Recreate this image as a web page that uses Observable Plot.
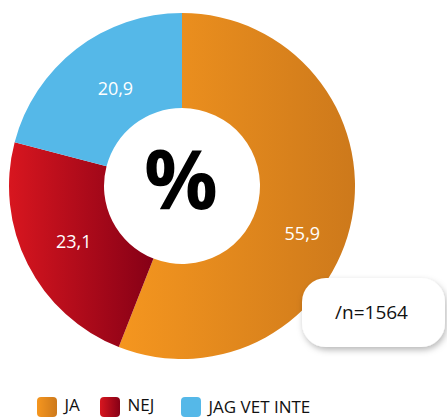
<!DOCTYPE html>
<html><head><meta charset="utf-8">
<script src="https://cdn.jsdelivr.net/npm/d3@7"></script>
<script src="https://cdn.jsdelivr.net/npm/@observablehq/plot@0.6"></script>
<style>body{margin:0;background:#fff;} svg{overflow:visible}</style>
</head><body><div id="chart"></div>
<script>
const categories = ["JA", "NEJ", "JAG VET INTE"];
const values = [55.9, 23.1, 20.9];
const valueLabels = ["55,9", "23,1", "20,9"];
const sampleLabel = "/n=1564";
const centerLabel = "%";

const W = 447, H = 418;
const cx = 182, cy = 186, rOuter = 173, rInner = 78;
const gradients = [["#f5961f", "#cd791b"], ["#d8161f", "#860016"], ["#55b8e8", "#55b8e8"]];
const labelR = [129, 122, 118];
const labelShift = [11, 0, 3]; // degrees
const FONT = "'Open Sans', sans-serif";

const pie = d3.pie().sort(null).value(d => d)(values);
const arcs = pie.map((p, i) => {
  const a = (p.startAngle + p.endAngle) / 2 + labelShift[i] * Math.PI / 180;
  return {...p, i, category: categories[i], label: valueLabels[i],
    lx: cx + labelR[i] * Math.sin(a), ly: cy - labelR[i] * Math.cos(a)};
});

function donut(index, scales, vals, dims, context) {
  const g = d3.create("svg:g");
  const defs = g.append("defs");
  gradients.forEach(([a, b], i) => {
    const lg = defs.append("linearGradient").attr("id", "g" + i)
      .attr("x1", 0).attr("x2", 1).attr("y1", 0).attr("y2", 0);
    lg.append("stop").attr("offset", 0).attr("stop-color", a);
    lg.append("stop").attr("offset", 1).attr("stop-color", b);
  });
  const f = defs.append("filter").attr("id", "shadow").attr("x", "-20%").attr("y", "-20%").attr("width", "140%").attr("height", "150%");
  f.append("feDropShadow").attr("dx", 1.5).attr("dy", 3).attr("stdDeviation", 3).attr("flood-color", "#000").attr("flood-opacity", 0.28);
  const arc = d3.arc().innerRadius(rInner).outerRadius(rOuter);
  g.append("g").attr("transform", `translate(${scales.x(cx)},${scales.y(cy)})`)
    .selectAll("path").data(arcs).join("path")
    .attr("d", arc).attr("fill", d => `url(#g${d.i})`);
  // sample size box
  g.append("rect").attr("x", scales.x(302)).attr("y", scales.y(278))
    .attr("width", scales.x(445) - scales.x(302)).attr("height", scales.y(347) - scales.y(278))
    .attr("rx", 24).attr("fill", "#fff").attr("filter", "url(#shadow)");
  return g.node();
}

const legendX = [37, 100, 181];
const legendTextX = [64, 127, 208];
const legendTextY = [405.5, 405.5, 407];

const plot = Plot.plot({
  width: W, height: H, margin: 0,
  x: {domain: [0, W], range: [0, W]},
  y: {domain: [0, H], range: [0, H]},
  axis: null,
  marks: [
    donut,
    Plot.text(arcs, {x: "lx", y: "ly", text: "label", fill: "#fff", fontSize: 18, fontFamily: FONT}),
    Plot.text([centerLabel], {x: cx - 1.5, y: cy - 3.5, text: d => d, fontSize: 82, fontWeight: 700, fontFamily: FONT, fill: "#000"}),
    Plot.text([sampleLabel], {x: 371, y: 312, text: d => d, fontSize: 19, fontFamily: FONT, fill: "#111"}),
    ...categories.map((c, i) => Plot.rect([c], {x1: legendX[i], x2: legendX[i] + 20, y1: 397, y2: 417, rx: 4, fill: `url(#g${i})`})),
    Plot.text(categories, {x: (d, i) => legendTextX[i], y: (d, i) => legendTextY[i], text: d => d, textAnchor: "start", fontSize: 17, fontFamily: FONT, fill: "#111", style: "letter-spacing:1.5px"})
  ]
});
document.getElementById("chart").append(plot);
</script>
</body></html>
